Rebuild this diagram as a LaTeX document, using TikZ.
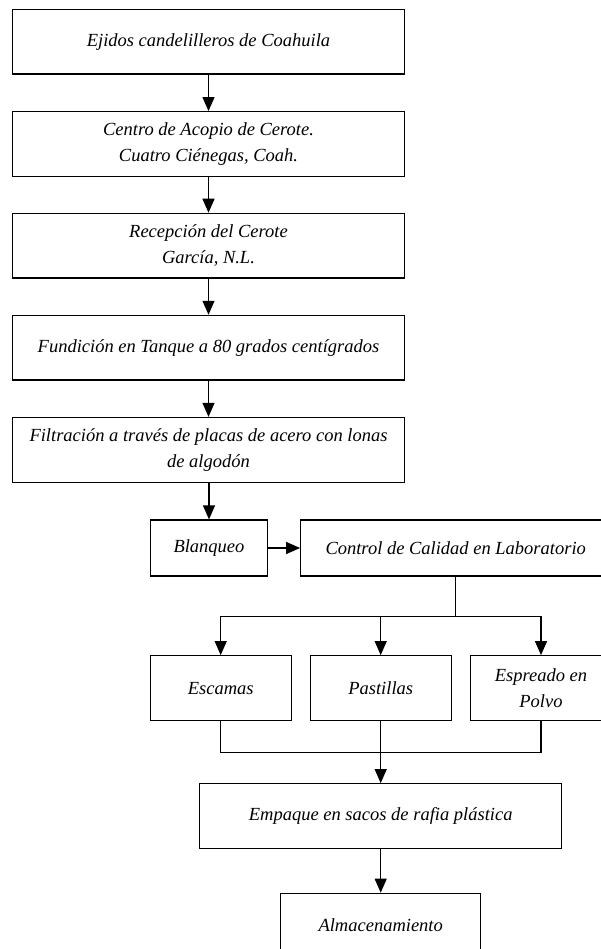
\documentclass[tikz,border=0pt]{standalone}
\usepackage{fontspec}
\setmainfont{Liberation Serif}
\usetikzlibrary{arrows.meta}
\begin{document}
\begin{tikzpicture}[x=1pt,y=-1pt,
  box/.style={draw, line width=1.2pt, rectangle, inner sep=0pt, align=center,
    font=\fontsize{18.5}{25.5}\selectfont\itshape},
  mainbox/.style={box, minimum width=391.6pt, minimum height=64.7pt},
  flow/.style={line width=1.2pt, -{Triangle[length=14pt,width=12pt]}},
  plain/.style={line width=1.2pt}]
\useasboundingbox (0,0) rectangle (600,949);
\node[mainbox] (b1) at (208.5,41.7) {Ejidos candelilleros de Coahuila};
\node[mainbox] (b2) at (208.5,144) {Centro de Acopio de Cerote.\\Cuatro Ciénegas, Coah.};
\node[mainbox] (b3) at (208.5,245.7) {Recepción del Cerote\\García, N.L.};
\node[mainbox] (b4) at (208.5,347.7) {Fundición en Tanque a 80 grados centígrados};
\node[mainbox] (b5) at (208.5,449.8) {Filtración a través de placas de acero con lonas\\de algodón};
\node[box, minimum width=116.6pt, minimum height=56pt] (bl) at (209,548) {Blanqueo};
\node[box, minimum width=310pt, minimum height=56pt] (cc) at (455.7,548) {Control de Calidad en Laboratorio};
\node[box, minimum width=141pt, minimum height=65pt] (es) at (220.7,688.2) {Escamas};
\node[box, minimum width=141pt, minimum height=65pt] (pa) at (380.7,688.2) {Pastillas};
\node[box, minimum width=141pt, minimum height=65pt] (sp) at (541,688.2) {Espreado en\\Polvo};
\node[box, minimum width=362pt, minimum height=64.6pt] (em) at (380.7,816) {Empaque en sacos de rafia plástica};
\node[box, minimum width=200pt, minimum height=64.7pt] (al) at (380.7,925.6) {Almacenamiento};
\coordinate (split) at (455.7,616.7);
\coordinate (merge) at (380.7,752.3);
\draw[flow] (b1) -- (b2);
\draw[flow] (b2) -- (b3);
\draw[flow] (b3) -- (b4);
\draw[flow] (b4) -- (b5);
\draw[flow] (b5.south -| bl.north) -- (bl.north);
\draw[flow] (bl) -- (cc);
\draw[plain] (cc.south) -- (split);
\draw[flow] (split) -| (es.north);
\draw[flow] (split) -| (sp.north);
\draw[flow] (split -| pa.north) -- (pa.north);
\draw[plain] (es.south) |- (merge) -| (sp.south);
\draw[flow] (pa.south) -- (em.north);
\draw[flow] (em) -- (al);
\end{tikzpicture}
\end{document}
